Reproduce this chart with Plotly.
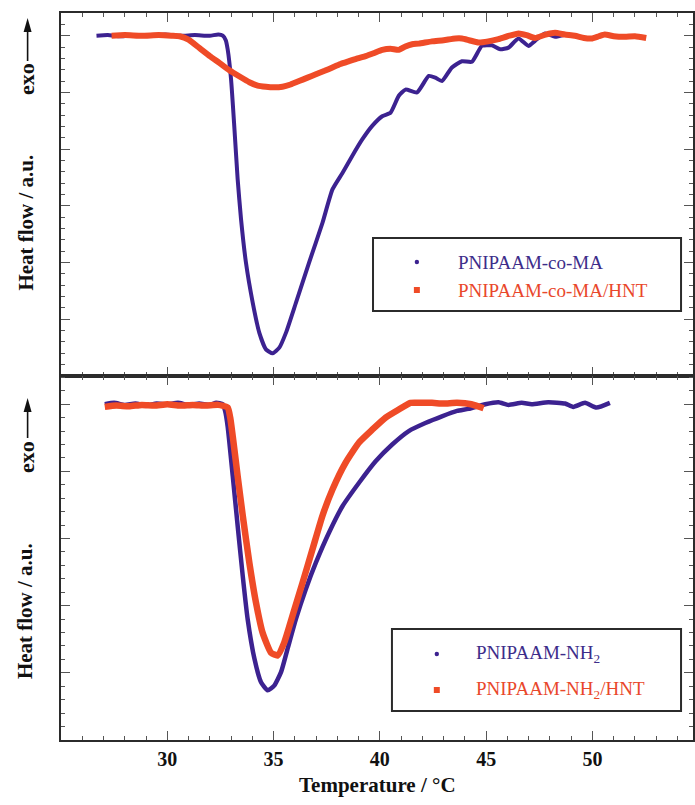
import plotly.graph_objects as go

# ---- DSC thermograms (temperature in °C, heat flow in arbitrary units) ----
ma_T = [26.67, 27.2, 27.8, 28.5, 29.2, 29.9, 30.6, 31.3, 32.0, 32.4, 32.61, 32.75, 32.84, 33.0,
        33.16, 33.31, 33.47, 33.7, 34.02, 34.33, 34.64, 34.95, 35.27, 35.58, 36.05, 36.67,
        37.3, 37.77, 38.24, 38.7, 39.17, 39.64, 40.11, 40.5, 40.89, 41.21, 41.75, 42.3, 42.61,
        42.92, 43.39, 43.86, 44.33, 44.8, 45.27, 45.66, 46.05, 46.52, 46.99, 47.3, 47.77,
        48.24, 48.71]
ma_Q = [0.0, 0.01, -0.01, 0.01, 0.0, 0.02, 0.0, 0.01, 0.0, 0.02, 0.0, -0.08, -0.24, -0.77,
        -1.65, -2.53, -3.24, -4.0, -4.71, -5.24, -5.53, -5.6, -5.5, -5.24, -4.71, -4.0,
        -3.3, -2.71, -2.42, -2.12, -1.83, -1.59, -1.42, -1.36, -1.06, -0.95, -1.0, -0.71, -0.74,
        -0.8, -0.56, -0.45, -0.46, -0.18, -0.17, -0.24, -0.21, -0.05, -0.18, -0.09, 0.04,
        -0.02, 0.02]

ma_hnt_T = [27.38, 28.0, 28.8, 29.6, 30.2, 30.58, 31.0, 31.52, 32.0, 32.45, 32.92, 33.4, 33.86,
            34.25, 34.64, 35.0, 35.42, 35.8, 36.2, 36.6, 36.99, 37.4, 37.77, 38.15, 38.55,
            38.95, 39.33, 39.7, 40.11, 40.5, 40.89, 41.2, 41.52, 41.83, 42.45, 43.0, 43.55,
            43.86, 44.2, 44.64, 45.1, 45.58, 46.0, 46.52, 46.9, 47.3, 47.8, 48.24, 48.7, 49.17,
            49.6, 49.95, 50.3, 50.58, 51.0, 51.52, 52.0, 52.53]
ma_hnt_Q = [0.0, 0.01, 0.0, 0.01, 0.0, -0.01, -0.07, -0.22, -0.36, -0.48, -0.61, -0.72, -0.82,
            -0.88, -0.9, -0.91, -0.9, -0.86, -0.8, -0.74, -0.68, -0.62, -0.56, -0.5, -0.45,
            -0.4, -0.36, -0.31, -0.25, -0.23, -0.25, -0.19, -0.15, -0.14, -0.1, -0.08, -0.05,
            -0.05, -0.08, -0.12, -0.1, -0.06, -0.01, 0.04, 0.01, -0.04, 0.02, 0.05, 0.02, 0.0,
            -0.04, -0.05, -0.01, 0.02, -0.01, -0.02, -0.01, -0.04]

nh2_T = [27.06, 27.5, 28.0, 28.5, 29.0, 29.5, 30.0, 30.5, 31.0, 31.5, 32.0, 32.3, 32.61, 32.72,
         32.84, 33.08, 33.31, 33.55, 33.78, 34.1, 34.41, 34.72, 35.03, 35.35, 35.66, 36.05,
         36.52, 36.99, 37.61, 38.24, 39.02, 39.8, 40.58, 41.36, 42.14, 42.92, 43.63, 44.17,
         44.96, 45.58, 46.05, 46.67, 47.14, 47.92, 48.71, 49.1, 49.65, 50.19, 50.82]
nh2_Q = [0.0, 0.02, -0.01, 0.01, -0.02, 0.01, 0.0, 0.02, -0.01, 0.01, -0.01, 0.02, 0.0, -0.1,
         -0.33, -1.07, -1.81, -2.56, -3.2, -3.79, -4.14, -4.26, -4.19, -3.99, -3.64, -3.2,
         -2.75, -2.36, -1.91, -1.52, -1.17, -0.85, -0.6, -0.4, -0.28, -0.18, -0.1, -0.07,
         0.0, 0.03, -0.01, 0.02, 0.0, 0.03, 0.01, -0.04, 0.02, -0.05, 0.02]

nh2_hnt_T = [27.06, 27.6, 28.2, 28.8, 29.4, 30.0, 30.6, 31.2, 31.8, 32.4, 32.84, 32.96, 33.08,
             33.31, 33.55, 33.86, 34.17, 34.48, 34.88, 35.19, 35.5, 35.89, 36.36, 36.83, 37.3,
             37.77, 38.39, 39.02, 39.64, 40.27, 40.89, 41.44, 42.0, 42.45, 43.0, 43.63, 44.3,
             44.88]
nh2_hnt_Q = [-0.04, -0.02, -0.03, -0.01, -0.02, 0.0, -0.02, -0.01, -0.02, -0.01, -0.05, -0.2,
             -0.48, -1.07, -1.66, -2.36, -2.95, -3.4, -3.7, -3.74, -3.55, -3.15, -2.66, -2.16,
             -1.66, -1.27, -0.87, -0.57, -0.38, -0.2, -0.08, 0.02, 0.02, 0.02, 0.01, 0.02, 0.0,
             -0.06]

x_ticks = [30, 35, 40, 45, 50]
x_range = [25, 54.73]
top_range = [-6.0, 0.4]
bottom_range = [-5.0, 0.42]

PURPLE = "#3c2290"
ORANGE = "#ef4b27"
PURPLE_TXT = "#3d2d8a"
ORANGE_TXT = "#e9472b"
FRAME = "#2b2b2b"
SERIF = "Liberation Serif"

W, H = 695, 805
ML, MR, MT, MB = 61, 0, 13, 65
PW, PH = W - ML - MR, H - MT - MB
SPLIT = 376  # pixel row of the panel divider


def px_x(p):
    return (p - ML) / PW


def px_y(p):
    return (H - MB - p) / PH


fig = go.Figure()

curve = dict(mode="lines", showlegend=False, hoverinfo="skip")
fig.add_trace(go.Scatter(x=ma_T, y=ma_Q, line=dict(color=PURPLE, width=4, shape="spline", smoothing=0.5),
                         xaxis="x", yaxis="y", **curve))
fig.add_trace(go.Scatter(x=ma_hnt_T, y=ma_hnt_Q, line=dict(color=ORANGE, width=6, shape="spline", smoothing=0.5),
                         xaxis="x", yaxis="y", **curve))
fig.add_trace(go.Scatter(x=nh2_T, y=nh2_Q, line=dict(color=PURPLE, width=4.5, shape="spline", smoothing=0.5),
                         xaxis="x2", yaxis="y2", **curve))
fig.add_trace(go.Scatter(x=nh2_hnt_T, y=nh2_hnt_Q, line=dict(color=ORANGE, width=6.5, shape="spline", smoothing=0.5),
                         xaxis="x2", yaxis="y2", **curve))

split = px_y(SPLIT)

xcommon = dict(range=x_range, showline=True, linecolor=FRAME, linewidth=2, mirror="ticks",
               ticks="inside", ticklen=9, tickwidth=1, tickcolor="#555",
               tickmode="array", tickvals=x_ticks,
               minor=dict(ticks="inside", ticklen=4, dtick=1, tick0=0, tickcolor="#555", tickwidth=1),
               showgrid=False, zeroline=False)
ycommon = dict(showline=True, linecolor=FRAME, linewidth=2, mirror="ticks",
               ticks="inside", ticklen=9, tickwidth=1, tickcolor="#555",
               dtick=1, tick0=0,
               minor=dict(ticks="inside", ticklen=4, dtick=0.2, tick0=0, tickcolor="#555", tickwidth=1),
               showticklabels=False, showgrid=False, zeroline=False)

fig.update_layout(
    width=W, height=H,
    margin=dict(l=ML, r=MR, t=MT, b=MB),
    paper_bgcolor="white", plot_bgcolor="white",
    xaxis=dict(**xcommon, domain=[0, 1], anchor="y", showticklabels=False),
    yaxis=dict(**ycommon, domain=[split, 1], anchor="x", range=top_range),
    xaxis2=dict(**xcommon, domain=[0, 1], anchor="y2", showticklabels=True,
                tickfont=dict(family=SERIF, size=20, color="#111", weight="bold")),
    yaxis2=dict(**ycommon, domain=[0, split], anchor="x2", range=bottom_range),
)

annotations = []
shapes = []

# axis titles
annotations.append(dict(text="Temperature / °C", xref="paper", yref="paper",
                        x=px_x(378), y=px_y(785), xanchor="center", yanchor="middle",
                        showarrow=False,
                        font=dict(family=SERIF, size=21, color="#111", weight="bold")))
for cy_label, cy_exo, tip, tail in [(222.5, 79, 18, 61), (611, 457, 398, 438)]:
    annotations.append(dict(text="Heat flow / a.u.", xref="paper", yref="paper",
                            x=px_x(25), y=px_y(cy_label), xanchor="center", yanchor="middle",
                            textangle=-90, showarrow=False,
                            font=dict(family=SERIF, size=21, color="#111", weight="bold")))
    annotations.append(dict(text="exo", xref="paper", yref="paper",
                            x=px_x(26), y=px_y(cy_exo), xanchor="center", yanchor="middle",
                            textangle=-90, showarrow=False,
                            font=dict(family=SERIF, size=22, color="#111", weight="bold")))
    # upward "exo" arrow
    shapes.append(dict(type="line", xref="paper", yref="paper",
                       x0=px_x(27.5), x1=px_x(27.5), y0=px_y(tail), y1=px_y(tip + 10),
                       line=dict(color="#111", width=1.6)))
    shapes.append(dict(type="path", xref="paper", yref="paper",
                       path="M {a},{b} L {c},{d} L {e},{f} Z".format(
                           a=px_x(27.5), b=px_y(tip), c=px_x(23.5), d=px_y(tip + 14),
                           e=px_x(31.5), f=px_y(tip + 14)),
                       line=dict(width=0), fillcolor="#111"))

# legend boxes drawn as shapes with text annotations
legends = [
    dict(box=(374, 238, 683, 311), mx=418, tx=457, rows=[
        (262, "PNIPAAM-co-MA", PURPLE, PURPLE_TXT, "circle", 2.2),
        (290, "PNIPAAM-co-MA/HNT", ORANGE, ORANGE_TXT, "rect", 3.0)]),
    dict(box=(393, 629, 683, 711), mx=438, tx=475, rows=[
        (654, "PNIPAAM-NH<sub>2</sub>", PURPLE, PURPLE_TXT, "circle", 2.2),
        (690, "PNIPAAM-NH<sub>2</sub>/HNT", ORANGE, ORANGE_TXT, "rect", 3.0)]),
]
for lg in legends:
    x0, y0, x1, y1 = lg["box"]
    shapes.append(dict(type="rect", xref="paper", yref="paper",
                       x0=px_x(x0), x1=px_x(x1), y0=px_y(y1), y1=px_y(y0),
                       line=dict(color=FRAME, width=2), fillcolor="white", layer="above"))
    for ry, label, mcol, tcol, kind, r in lg["rows"]:
        shapes.append(dict(type=kind, xref="paper", yref="paper",
                           x0=px_x(lg["mx"] - r), x1=px_x(lg["mx"] + r),
                           y0=px_y(ry + r), y1=px_y(ry - r),
                           line=dict(width=0), fillcolor=mcol, layer="above"))
        annotations.append(dict(text=label, xref="paper", yref="paper",
                                x=px_x(lg["tx"]), y=px_y(ry), xanchor="left", yanchor="middle",
                                showarrow=False, font=dict(family=SERIF, size=19, color=tcol)))

fig.update_layout(annotations=annotations, shapes=shapes)

fig.write_html("out.html")
